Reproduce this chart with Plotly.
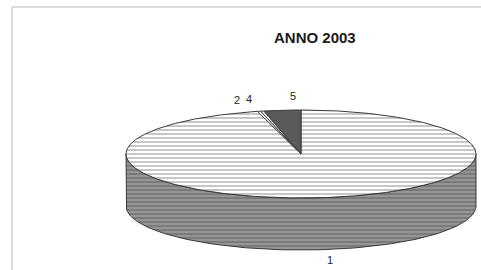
import numpy as np
import plotly.graph_objects as go

# ---- data ----
categories = ["1", "2", "3", "4", "5"]
values = [96.0, 0.3, 0.0, 0.3, 3.4]
title_text = "ANNO 2003"

# ---- style / geometry ----
W, H = 481, 270
CX, CY = 301.0, 154.0
RX, RY = 175.0, 44.0
DEPTH = 52.0
top_colors = {"1": "white", "2": "white", "3": "white", "4": "white", "5": "#5a5a5a"}
top_pattern = {"1": True, "2": False, "3": False, "4": False, "5": False}
label_nudge = {"1": (3, 2), "2": (-15, -4), "3": (0, 0), "4": (-6, -4), "5": (14, -6)}


def pt(theta_deg, r=1.0, dy=0.0):
    t = np.radians(theta_deg)
    return CX + RX * r * np.sin(t), CY - RY * r * np.cos(t) + dy


fig = go.Figure()

total = sum(values)
starts = np.cumsum([0] + values[:-1]) / total * 360.0
ends = np.cumsum(values) / total * 360.0

# side walls (front half only, 90..270 deg), drawn per slice
for cat, a0, a1 in zip(categories, starts, ends):
    lo, hi = max(a0, 90.0), min(a1, 270.0)
    if hi <= lo:
        continue
    th = np.linspace(lo, hi, 120)
    xs_t, ys_t = pt(th)
    xs_b, ys_b = pt(th[::-1], dy=DEPTH)
    xs = np.concatenate([xs_t, xs_b, xs_t[:1]])
    ys = np.concatenate([ys_t, ys_b, ys_t[:1]])
    fig.add_trace(go.Scatter(
        x=xs, y=ys, mode="lines", fill="toself",
        fillcolor="#8c8c8c",
        fillpattern=dict(shape="-", fgcolor="#555555", bgcolor="#959595", size=4, solidity=0.4),
        line=dict(color="#3a3a3a", width=1), hoverinfo="skip", showlegend=False))

# top faces
for cat, a0, a1 in zip(categories, starts, ends):
    if a1 - a0 <= 0:
        continue
    th = np.linspace(a0, a1, max(4, int((a1 - a0) * 2)))
    xa, ya = pt(th)
    xs = np.concatenate([[CX], xa, [CX]])
    ys = np.concatenate([[CY], ya, [CY]])
    kw = {}
    if top_pattern[cat]:
        kw["fillpattern"] = dict(shape="-", fgcolor="#707070", bgcolor="white", size=4, solidity=0.4)
    fig.add_trace(go.Scatter(
        x=xs, y=ys, mode="lines", fill="toself", fillcolor=top_colors[cat],
        line=dict(color="#3a3a3a", width=1), hoverinfo="skip", showlegend=False, **kw))

# labels
for cat, v, a0, a1 in zip(categories, values, starts, ends):
    if v <= 0:
        continue
    mid = (a0 + a1) / 2
    x, y = pt(mid, r=1.18, dy=DEPTH if np.cos(np.radians(mid)) < 0 else 0)
    dx, ddy = label_nudge[cat]
    fig.add_annotation(x=x + dx, y=y + ddy, text=cat, showarrow=False,
                       font=dict(family="Liberation Sans, Arial", size=11, color="#222222"))

fig.add_annotation(x=315, y=37, text="<b>" + title_text + "</b>", showarrow=False,
                   font=dict(family="Liberation Sans, Arial", size=15, color="#1a1a1a"))

# scanned frame
fig.add_shape(type="line", x0=12, y0=7, x1=W, y1=7, line=dict(color="#d0d0d0", width=1.5))
fig.add_shape(type="line", x0=12, y0=7, x1=12, y1=H, line=dict(color="#d0d0d0", width=1.5))

fig.update_layout(
    width=W, height=H, margin=dict(l=0, r=0, t=0, b=0),
    paper_bgcolor="white", plot_bgcolor="white",
    xaxis=dict(range=[0, W], visible=False, fixedrange=True),
    yaxis=dict(range=[H, 0], visible=False, fixedrange=True),
)
fig.write_html("out.html", config={"displayModeBar": False},
               post_script="document.body.style.margin='0';document.body.style.overflow='hidden';")
